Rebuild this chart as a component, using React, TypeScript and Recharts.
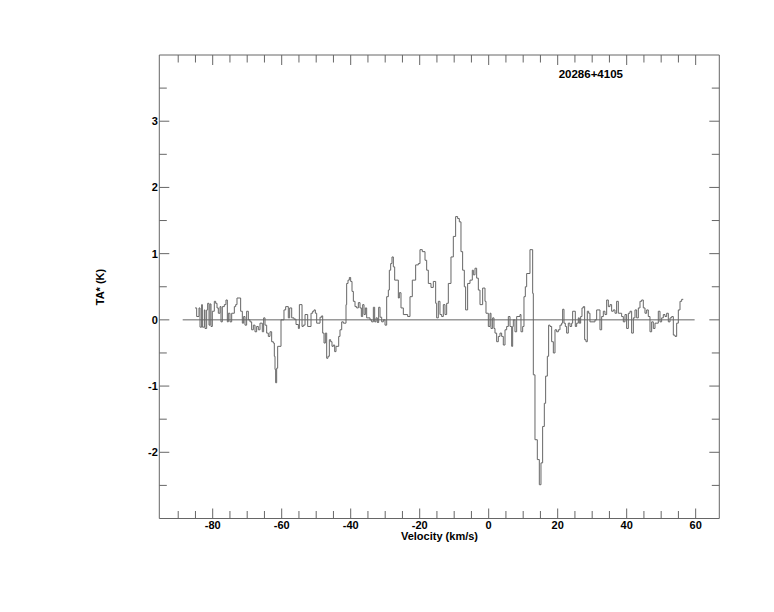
import React from 'react';
import { ComposedChart, Line, XAxis, YAxis } from 'recharts';

// channel velocities (km/s)
const velocity = [
  -85.13, -84.65, -83.97, -83.68, -83.2, -83.0, -82.43, -82.23, -81.75, -81.46,
  -81.07, -80.78, -80.49, -80.11, -79.53, -79.14, -78.75, -78.37, -77.88, -77.6,
  -77.21, -76.63, -76.15, -75.76, -75.47, -74.99, -74.5, -73.73, -73.34, -72.96,
  -71.9, -71.41, -71.03, -70.64, -70.16, -69.67, -69.19, -68.71, -68.22, -67.74,
  -67.26, -66.77, -66.29, -65.62, -65.23, -64.84, -64.36, -63.88, -63.39, -62.91,
  -62.43, -62.14, -61.94, -61.75, -61.46, -61.17, -60.2, -59.34, -58.85, -58.08,
  -57.69, -57.1, -56.43, -55.85, -55.17, -54.88, -54.11, -53.73, -53.24, -52.47,
  -51.5, -51.02, -50.63, -50.25, -49.86, -48.89, -48.41, -48.12, -47.73, -47.35,
  -46.96, -46.58, -46.19, -45.8, -45.42, -45.03, -44.64, -44.26, -43.48, -43.1,
  -42.61, -42.13, -41.36, -41.17, -40.78, -40.39, -40.01, -39.62, -39.23, -38.75,
  -38.27, -37.78, -37.3, -36.91, -36.53, -36.14, -35.75, -35.37, -34.4, -33.92,
  -33.43, -33.05, -32.66, -32.28, -31.89, -31.5, -31.02, -30.54, -30.05, -29.57,
  -29.09, -28.8, -28.41, -28.03, -27.64, -27.25, -26.19, -25.9, -25.42, -24.74,
  -23.49, -22.81, -22.14, -21.17, -20.4, -19.91, -19.24, -18.46, -17.98, -17.5,
  -16.73, -16.05, -15.37, -15.08, -14.6, -14.12, -13.63, -13.15, -12.67, -12.18,
  -11.7, -10.93, -10.25, -9.58, -9.0, -8.51, -8.03, -7.55, -7.06, -6.68,
  -6.1, -5.42, -4.75, -4.45, -3.97, -3.49, -3.0, -2.52, -1.75, -1.07,
  -0.78, -0.1, 0.38, 0.67, 1.15, 1.54, 1.83, 2.31, 2.79, 3.28,
  3.76, 4.24, 4.73, 5.21, 5.69, 6.18, 6.66, 6.95, 7.14, 7.62,
  8.11, 9.07, 9.36, 9.85, 10.23, 10.62, 11.01, 11.97, 12.75, 12.94,
  13.42, 14.1, 14.68, 15.16, 15.64, 16.13, 16.51, 17.0, 17.38, 17.77,
  18.25, 18.74, 19.22, 19.7, 20.19, 20.67, 21.15, 21.44, 21.83, 22.21,
  22.6, 23.08, 23.57, 24.05, 24.34, 25.11, 25.5, 25.98, 26.27, 26.66,
  27.05, 27.43, 27.82, 28.2, 28.59, 28.98, 29.36, 30.81, 31.3, 32.26,
  32.75, 33.23, 33.71, 34.2, 34.68, 35.16, 35.64, 36.13, 36.61, 37.09,
  37.58, 38.54, 39.03, 39.51, 39.99, 40.48, 40.96, 41.44, 41.93, 42.41,
  42.89, 43.38, 43.86, 44.34, 44.82, 45.31, 45.79, 46.27, 46.76, 47.24,
  47.72, 48.21, 49.17, 49.66, 50.14, 50.62, 51.11, 51.59, 52.07, 52.56,
  53.04, 53.52, 54.01, 54.49, 54.97, 55.46, 55.94, 56.4,
];

// antenna temperature TA* (K)
const ta = [
  0.18, 0.05, 0.18, -0.11, 0.23, -0.11, 0.15, -0.13, 0.15, 0.25,
  -0.08, 0.24, -0.1, 0.13, 0.28, 0.25, 0.18, 0.1, 0.2, -0.03,
  0.2, 0.23, 0.3, -0.03, 0.1, -0.03, 0.1, 0.2, 0.23, 0.33,
  0.13, -0.05, 0.05, -0.08, 0.13, 0.0, -0.03, -0.15, -0.08, -0.18,
  -0.1, -0.15, -0.05, -0.18, 0.03, -0.08, -0.2, -0.25, -0.18, -0.33,
  -0.35, -0.55, -0.75, -0.95, -0.73, -0.4, 0.0, 0.15, 0.2, 0.03,
  0.18, 0.03, 0.01, -0.07, -0.13, 0.23, -0.1, -0.08, 0.08, -0.1,
  0.1, 0.13, 0.15, 0.1, -0.05, 0.04, 0.06, -0.2, -0.35, -0.2,
  -0.58, -0.55, -0.3, -0.33, -0.4, -0.38, -0.48, -0.4, -0.25, -0.15,
  -0.03, -0.05, 0.23, 0.55, 0.6, 0.64, 0.58, 0.43, 0.28, 0.2,
  0.18, 0.26, 0.18, 0.05, 0.23, 0.08, 0.18, 0.03, 0.0, -0.03,
  0.19, -0.03, 0.03, -0.04, 0.19, 0.04, -0.03, 0.0, -0.08, 0.35,
  0.45, 0.75, 0.85, 0.95, 0.8, 0.6, 0.33, 0.41, 0.18, 0.08,
  0.05, 0.35, 0.6, 0.83, 0.85, 1.06, 1.03, 0.9, 0.75, 0.55,
  0.49, 0.58, 0.25, 0.03, 0.28, 0.08, 0.05, 0.23, 0.08, 0.25,
  0.55, 0.95, 1.26, 1.56, 1.53, 1.48, 1.03, 0.75, 0.5, 0.15,
  0.55, 0.6, 0.75, 0.68, 0.78, 0.63, 0.45, 0.23, 0.48, 0.28,
  0.1, -0.1, 0.1, -0.13, 0.03, -0.13, -0.2, -0.33, -0.25, -0.2,
  -0.25, -0.38, -0.15, -0.1, 0.05, -0.1, -0.4, -0.1, 0.0, -0.18,
  0.05, 0.08, -0.18, -0.1, 0.35, 0.5, 0.7, 1.06, 0.4, -0.83,
  -1.81, -2.11, -2.49, -2.16, -1.61, -1.26, -0.85, -0.55, -0.08, -0.1,
  -0.33, -0.5, -0.15, -0.18, -0.15, -0.08, -0.05, 0.16, -0.05, -0.1,
  -0.2, -0.05, -0.1, -0.05, 0.13, -0.1, -0.05, 0.03, -0.05, 0.05,
  0.18, 0.2, -0.3, -0.33, 0.13, 0.1, -0.03, 0.0, 0.15, -0.15,
  0.05, 0.13, 0.08, 0.3, 0.2, 0.23, 0.13, 0.15, 0.1, 0.28,
  0.1, 0.05, -0.03, 0.08, -0.13, 0.1, 0.13, -0.2, 0.03, 0.15,
  0.03, 0.18, 0.28, 0.3, 0.18, 0.1, 0.15, 0.05, -0.18, -0.03,
  -0.13, -0.05, 0.13, -0.03, 0.03, 0.08, 0.05, 0.1, -0.03, 0.03,
  0.05, -0.23, -0.25, -0.05, 0.15, 0.28, 0.31, 0.31,
];

const baselineV = [-88.7, 59.7];
const baselineT = [0, 0];

const xTicks = [-90, -85, -80, -75, -70, -65, -60, -55, -50, -45, -40, -35, -30, -25, -20, -15, -10, -5, 0, 5, 10, 15, 20, 25, 30, 35, 40, 45, 50, 55, 60];
const xLabels = [-80, -60, -40, -20, 0, 20, 40, 60];
const yTicks = [-2.5, -2, -1.5, -1, -0.5, 0, 0.5, 1, 1.5, 2, 2.5, 3, 3.5];
const yLabels = [-2, -1, 0, 1, 2, 3];

const title = '20286+4105';

const spectrum = velocity.map((v, i) => ({ v, t: ta[i] }));
const baseline = baselineV.map((v, i) => ({ v, t: baselineT[i] }));

const AXIS = '#666';
const FONT = '"Liberation Sans", Arial, Helvetica, sans-serif';
const MAJOR = 10;
const MINOR = 7.5;

const txt = { fontFamily: FONT, fontWeight: 'bold' as const, fontSize: 11, fill: '#000' };

const BottomTick = (p: any) => {
  const v = p.payload.value;
  const major = xLabels.includes(v);
  return (
    <g>
      <line x1={p.x} x2={p.x} y1={p.y} y2={p.y - (major ? MAJOR : MINOR)} stroke={AXIS} />
      {major && (
        <text x={p.x} y={p.y + 10.5} textAnchor="middle" {...txt}>{v}</text>
      )}
    </g>
  );
};

const TopTick = (p: any) => {
  const major = xLabels.includes(p.payload.value);
  return <line x1={p.x} x2={p.x} y1={p.y} y2={p.y + (major ? MAJOR : MINOR)} stroke={AXIS} />;
};

const LeftTick = (p: any) => {
  const v = p.payload.value;
  const major = yLabels.includes(v);
  return (
    <g>
      <line x1={p.x} x2={p.x + (major ? MAJOR : MINOR)} y1={p.y} y2={p.y} stroke={AXIS} />
      {major && (
        <text x={p.x - 1.5} y={p.y + 4} textAnchor="end" {...txt}>{v}</text>
      )}
    </g>
  );
};

const RightTick = (p: any) => {
  const major = yLabels.includes(p.payload.value);
  return <line x1={p.x} x2={p.x - (major ? MAJOR : MINOR)} y1={p.y} y2={p.y} stroke={AXIS} />;
};

const W = 766;
const H = 596;

export default function App() {
  return (
    <div style={{ position: 'relative', width: W, height: H }}>
      <ComposedChart width={W} height={H} margin={{ top: 37, right: 44.7, bottom: 55.5, left: 111.3 }}>
        <XAxis xAxisId="b" type="number" dataKey="v" domain={[-95.48, 66.85]} ticks={xTicks} interval={0}
          allowDataOverflow height={30} tickSize={0} tickMargin={0} tickLine={false}
          axisLine={{ stroke: AXIS }} tick={(p: any) => <BottomTick {...p} />} />
        <XAxis xAxisId="t" orientation="top" type="number" dataKey="v" domain={[-95.48, 66.85]} ticks={xTicks} interval={0}
          allowDataOverflow height={10} tickSize={0} tickMargin={0} tickLine={false}
          axisLine={{ stroke: AXIS }} tick={(p: any) => <TopTick {...p} />} />
        <YAxis yAxisId="l" type="number" domain={[-3, 4]} ticks={yTicks} interval={0}
          allowDataOverflow width={40} tickSize={0} tickMargin={0} tickLine={false}
          axisLine={{ stroke: AXIS }} tick={(p: any) => <LeftTick {...p} />} />
        <YAxis yAxisId="r" orientation="right" type="number" domain={[-3, 4]} ticks={yTicks} interval={0}
          allowDataOverflow width={10} tickSize={0} tickMargin={0} tickLine={false}
          axisLine={{ stroke: AXIS }} tick={(p: any) => <RightTick {...p} />} />
        <Line xAxisId="t" yAxisId="r" data={baseline} dataKey="t" type="linear" dot={false}
          stroke={AXIS} strokeWidth={1} isAnimationActive={false} />
        <Line xAxisId="b" yAxisId="l" data={spectrum} dataKey="t" type="stepAfter" dot={false}
          stroke={AXIS} strokeWidth={1} isAnimationActive={false} />
      </ComposedChart>
      <svg width={W} height={H} style={{ position: 'absolute', left: 0, top: 0, pointerEvents: 'none' }}>
        <text x={582.8} y={70.3} textAnchor="middle" {...txt} fontSize={11.5}>{title}</text>
        <text x={431.5} y={532} textAnchor="middle" {...txt}>Velocity (km/s)</text>
        <text x={96} y={279} textAnchor="middle" transform="rotate(-90 96 279)" {...txt}>TA* (K)</text>
      </svg>
    </div>
  );
}
